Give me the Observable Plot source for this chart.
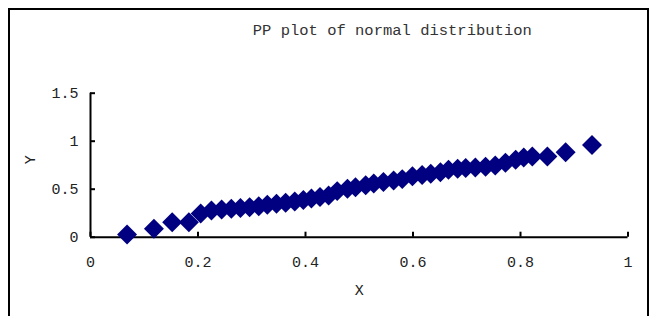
<!DOCTYPE html>
<html>
<head>
<meta charset="utf-8">
<script src="https://cdn.jsdelivr.net/npm/d3@7"></script>
<script src="https://cdn.jsdelivr.net/npm/@observablehq/plot@0.6"></script>
<style>
  html, body { margin: 0; padding: 0; background: #fff; }
  #wrap { position: relative; width: 653px; height: 316px; overflow: hidden; }
  #border { position: absolute; left: 8px; top: 8px; width: 637px; height: 330px; border: 2px solid #000; }
  #chart { position: absolute; left: 0; top: 0; }
</style>
</head>
<body>
<div id="wrap"><div id="border"></div><div id="chart"></div></div>
<script>
const title = "PP plot of normal distribution";
const xLabel = "X";
const yLabel = "Y";
const xTicks = [0, 0.2, 0.4, 0.6, 0.8, 1];
const yTicks = [0, 0.5, 1, 1.5];
const xValues = [0.068, 0.118, 0.152, 0.183, 0.205, 0.225, 0.244, 0.262, 0.279, 0.296, 0.313, 0.329, 0.346, 0.363, 0.380, 0.396, 0.411, 0.427, 0.443, 0.459, 0.478, 0.493, 0.512, 0.527, 0.545, 0.564, 0.580, 0.599, 0.617, 0.633, 0.651, 0.666, 0.683, 0.698, 0.716, 0.735, 0.753, 0.772, 0.791, 0.806, 0.822, 0.850, 0.884, 0.933];
const yValues = [0.028, 0.088, 0.156, 0.156, 0.247, 0.278, 0.289, 0.296, 0.304, 0.313, 0.323, 0.338, 0.348, 0.358, 0.372, 0.388, 0.403, 0.419, 0.434, 0.480, 0.505, 0.520, 0.540, 0.560, 0.575, 0.590, 0.605, 0.635, 0.648, 0.662, 0.677, 0.702, 0.713, 0.721, 0.726, 0.733, 0.747, 0.775, 0.806, 0.830, 0.841, 0.841, 0.885, 0.960];

const data = xValues.map((x, i) => ({x, y: yValues[i]}));
const font = "'Liberation Mono', 'DejaVu Sans Mono', monospace";

const chart = Plot.plot({
  width: 653,
  height: 316,
  marginLeft: 90,
  marginRight: 25.5,
  marginTop: 92.7,
  marginBottom: 79.3,
  style: {fontFamily: font, fontSize: "15px", color: "#000", background: "transparent"},
  x: {domain: [0, 1]},
  y: {domain: [0, 1.5]},
  marks: [
    Plot.axisX(xTicks, {tickSize: -5, tickPadding: 24, strokeWidth: 2, tickFormat: d => String(d), fontSize: 15, fill: "#222", label: null}),
    Plot.axisY(yTicks, {tickSize: -5, tickPadding: 17, strokeWidth: 2, tickFormat: d => String(d), fontSize: 15, fill: "#222", label: null}),
    Plot.ruleX([0], {stroke: "#000", strokeWidth: 2}),
    Plot.ruleY([0], {stroke: "#000", strokeWidth: 2}),
    Plot.dot(data, {x: "x", y: "y", symbol: "diamond2", r: 9, fill: "#000080", stroke: "none"}),
    Plot.text([title], {frameAnchor: "top", dx: 33, dy: -69, fontSize: 15.5, fill: "#333"}),
    Plot.text([xLabel], {frameAnchor: "bottom", dy: 58, fontSize: 15, fill: "#222"}),
    Plot.text([yLabel], {frameAnchor: "left", dx: -60, dy: -1, rotate: -90, fontSize: 15, fill: "#222"})
  ]
});
document.getElementById("chart").appendChild(chart);
</script>
</body>
</html>
